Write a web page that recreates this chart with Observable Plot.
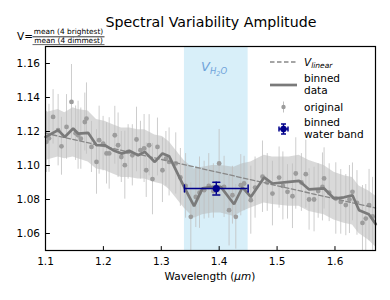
<!DOCTYPE html>
<html>
<head>
<meta charset="utf-8">
<script src="https://cdn.jsdelivr.net/npm/d3@7"></script>
<script src="https://cdn.jsdelivr.net/npm/@observablehq/plot@0.6"></script>
<style>
  html, body { margin: 0; padding: 0; background: #fff; }
  #wrap { position: relative; width: 390px; height: 300px; font-family: "DejaVu Sans", sans-serif; }
  #wrap > svg { position: absolute; left: 0; top: 0; }
</style>
</head>
<body>
<div id="wrap"></div>
<script>
// ---- data ----
const xTicks = [1.1, 1.2, 1.3, 1.4, 1.5, 1.6];
const yTicks = [1.06, 1.08, 1.10, 1.12, 1.14, 1.16];
const xDomain = [1.1, 1.67];
const yDomain = [1.05, 1.17];
const waterRange = [1.34, 1.45];

const binWl = [1.100,1.1218,1.1333,1.1477,1.1563,1.1736,1.1881,1.2024,1.2168,1.2313,1.2456,1.2599,1.2715,1.2888,1.3020,1.3135,1.3394,1.3567,1.3711,1.3884,1.4028,1.4257,1.4402,1.4546,1.4776,1.4920,1.5207,1.5380,1.5553,1.5812,1.5984,1.6157,1.6302,1.6416,1.6584,1.6705];
const binV  = [1.1168,1.1208,1.1168,1.1218,1.1188,1.1192,1.1119,1.1119,1.1090,1.1070,1.1086,1.1060,1.1080,1.1021,1.1071,1.1055,1.0874,1.0761,1.0865,1.0874,1.0874,1.0772,1.0872,1.0815,1.0930,1.0894,1.0904,1.0910,1.0859,1.0865,1.0806,1.0813,1.0825,1.0737,1.0713,1.0655];
const bandLo = [1.103,1.105,1.104,1.105,1.104,1.102,1.098,1.097,1.095,1.093,1.093,1.092,1.092,1.090,1.089,1.086,1.075,1.069,1.071,1.072,1.072,1.070,1.073,1.075,1.078,1.077,1.076,1.076,1.073,1.071,1.068,1.066,1.065,1.060,1.056,1.052];
const bandHi = [1.131,1.133,1.131,1.134,1.133,1.132,1.127,1.126,1.124,1.122,1.122,1.121,1.121,1.118,1.117,1.114,1.103,1.098,1.099,1.100,1.100,1.099,1.101,1.102,1.106,1.105,1.105,1.106,1.103,1.100,1.096,1.094,1.093,1.088,1.085,1.082];

const origWl = [1.1017,1.1060,1.1131,1.1218,1.1276,1.1363,1.1449,1.1520,1.1563,1.1610,1.1679,1.1708,1.1794,1.1881,1.1926,1.1995,1.2054,1.2100,1.2197,1.2254,1.2310,1.2370,1.2427,1.2500,1.2572,1.2640,1.2703,1.2740,1.2790,1.2848,1.2934,1.3020,1.3080,1.3135,1.3250,1.3330,1.3420,1.3510,1.3596,1.3660,1.3740,1.3820,1.3900,1.3999,1.4085,1.4171,1.4229,1.4287,1.4373,1.4430,1.4546,1.4620,1.4748,1.4830,1.4920,1.5035,1.5100,1.5180,1.5266,1.5323,1.5420,1.5496,1.5553,1.5639,1.5710,1.5784,1.5812,1.5900,1.6014,1.6100,1.6187,1.6250,1.6302,1.6380,1.6475,1.6532,1.6589,1.6650];
const origV  = [1.1139,1.1160,1.1286,1.1208,1.1113,1.1227,1.1374,1.1190,1.1178,1.1158,1.1256,1.1276,1.1109,1.1021,1.1149,1.1129,1.1071,1.1071,1.1178,1.1119,1.1050,1.1002,1.1080,1.1060,1.1153,1.1090,1.1100,1.0972,1.1119,1.0920,1.1109,1.0972,1.1040,1.1021,1.1012,1.0930,1.0880,1.0698,1.0815,1.0840,1.0855,1.0880,1.0850,1.1012,1.0874,1.0737,1.0825,1.0698,1.0884,1.0894,1.0796,1.0870,1.0934,1.0900,1.0835,1.0929,1.0880,1.0845,1.0819,1.0953,1.0900,1.0949,1.0800,1.0800,1.0850,1.0874,1.0924,1.0840,1.0806,1.0786,1.0767,1.0800,1.0845,1.0780,1.0662,1.0688,1.0767,1.0700];
const origErr = [0.018,0.020,0.016,0.021,0.017,0.019,0.022,0.016,0.020,0.018,0.017,0.021,0.015,0.019,0.020,0.016,0.018,0.021,0.017,0.019,0.015,0.020,0.016,0.018,0.019,0.017,0.020,0.016,0.018,0.021,0.017,0.019,0.016,0.020,0.018,0.017,0.019,0.020,0.018,0.021,0.017,0.019,0.016,0.020,0.018,0.021,0.017,0.019,0.018,0.016,0.020,0.018,0.021,0.017,0.019,0.018,0.020,0.016,0.019,0.021,0.017,0.020,0.018,0.019,0.016,0.020,0.018,0.017,0.021,0.019,0.018,0.020,0.017,0.019,0.022,0.020,0.021,0.023];

const linWl = [1.1, 1.67];
const linV  = [1.1190, 1.0750];

const waterWl = [1.395];
const waterV = [1.0864];
const waterYErr = [0.0038];
const waterXLo = [1.34];
const waterXHi = [1.45];

// ---- tables ----
const binned = binWl.map((x, i) => ({x, y: binV[i], lo: bandLo[i], hi: bandHi[i]}));
const orig = origWl.map((x, i) => ({x, y: origV[i], e: origErr[i]}));
const lin = linWl.map((x, i) => ({x, y: linV[i]}));
const water = waterWl.map((x, i) => ({x, y: waterV[i], ey: waterYErr[i], xlo: waterXLo[i], xhi: waterXHi[i]}));

const lineShape = {draw(ctx, l) { ctx.moveTo(0, 0); ctx.lineTo(0, -l); }};

const plot = Plot.plot({
  width: 390, height: 300,
  marginTop: 46, marginRight: 15, marginBottom: 50, marginLeft: 45,
  style: {fontFamily: "DejaVu Sans", fontSize: "10.5px", background: "transparent", color: "black"},
  x: {domain: xDomain},
  y: {domain: yDomain},
  marks: [
    Plot.rect([waterRange], {x1: d => d[0], x2: d => d[1], fill: "#87ceeb", fillOpacity: 0.32}),
    Plot.areaY(binned, {x: "x", y1: "lo", y2: "hi", fill: "#b0b0b0", fillOpacity: 0.48, clip: true}),
    Plot.ruleX(orig, {x: "x", y1: d => d.y - d.e, y2: d => d.y + d.e, stroke: "#c0c0c0", strokeOpacity: 0.8, strokeWidth: 1, clip: true}),
    Plot.dot(orig, {x: "x", y: "y", r: 2.4, fill: "#9c9c9c", stroke: "none", clip: true}),
    Plot.line(lin, {x: "x", y: "y", stroke: "#888", strokeWidth: 1.3, strokeDasharray: "4.5,2.5"}),
    Plot.line(binned, {x: "x", y: "y", stroke: "#7a7a7a", strokeWidth: 2.7, strokeLinejoin: "miter"}),
    // water band point with error bars
    Plot.ruleY(water, {y: "y", x1: "xlo", x2: "xhi", stroke: "#00008b", strokeWidth: 1.5}),
    Plot.ruleX(water, {x: "x", y1: d => d.y - d.ey, y2: d => d.y + d.ey, stroke: "#00008b", strokeWidth: 1.5}),
    Plot.vector(water, {x: "xlo", y: "y", length: 7, rotate: 0, anchor: "middle", shape: lineShape, stroke: "#00008b", strokeWidth: 1.5}),
    Plot.vector(water, {x: "xhi", y: "y", length: 7, rotate: 0, anchor: "middle", shape: lineShape, stroke: "#00008b", strokeWidth: 1.5}),
    Plot.vector(water, {x: "x", y: d => d.y - d.ey, length: 7, rotate: 90, anchor: "middle", shape: lineShape, stroke: "#00008b", strokeWidth: 1.5}),
    Plot.vector(water, {x: "x", y: d => d.y + d.ey, length: 7, rotate: 90, anchor: "middle", shape: lineShape, stroke: "#00008b", strokeWidth: 1.5}),
    Plot.dot(water, {x: "x", y: "y", r: 3.6, fill: "#00008b", stroke: "none"}),
    // axes
    Plot.axisX(xTicks, {tickSize: 0, tickPadding: 7, tickFormat: d => d.toFixed(1), label: null}),
    Plot.axisY(yTicks, {tickSize: 0, tickPadding: 5.5, tickFormat: d => d.toFixed(2), label: null}),
    Plot.vector(xTicks, {x: d => d, y: yDomain[0], length: 4, rotate: 0, anchor: "start", shape: lineShape, stroke: "black", strokeWidth: 1}),
    Plot.vector(yTicks, {x: xDomain[0], y: d => d, length: 4, rotate: 90, anchor: "start", shape: lineShape, stroke: "black", strokeWidth: 1}),
    Plot.frame({stroke: "black", strokeWidth: 1.2})
  ]
});
const wrap = document.getElementById("wrap");
wrap.appendChild(plot);

// ---- overlay text: title, y label, x label, band label, legend ----
const ns = "http://www.w3.org/2000/svg";
const ov = document.createElementNS(ns, "svg");
ov.setAttribute("width", 390); ov.setAttribute("height", 300);
ov.style.fontFamily = "DejaVu Sans, sans-serif";
ov.innerHTML = `
  <text x="211" y="27" font-size="14.2" text-anchor="middle" fill="#000">Spectral Variability Amplitude</text>
  <text x="17" y="39.5" font-size="10.5" fill="#000">V=</text>
  <text x="68.5" y="34" font-size="7.4" text-anchor="middle" fill="#000">mean (4 brightest)</text>
  <line x1="32.5" x2="104.5" y1="36.8" y2="36.8" stroke="#000" stroke-width="0.8"/>
  <text x="68.5" y="43.3" font-size="7.4" text-anchor="middle" fill="#000">mean (4 dimmest)</text>
  <line x1="32.5" x2="104.5" y1="44.6" y2="44.6" stroke="#000" stroke-width="0.6"/>
  <text x="210" y="280" font-size="10.5" text-anchor="middle" fill="#000">Wavelength (<tspan font-style="italic">μm</tspan>)</text>
  <text x="201" y="71" font-size="13" font-style="italic" fill="#6fa3d9">V<tspan font-size="8.5" dy="3">H</tspan><tspan font-size="6.5" dy="2">2</tspan><tspan font-size="8.5" dy="-2">O</tspan></text>

  <line x1="270" x2="297" y1="62" y2="62" stroke="#888" stroke-width="1.3" stroke-dasharray="4.5,2.5"/>
  <text x="304" y="65.5" font-size="10.5" font-style="italic" fill="#000">V<tspan font-size="7.5" dy="2.5">linear</tspan></text>

  <line x1="270" x2="297" y1="85" y2="85" stroke="#7a7a7a" stroke-width="2.7"/>
  <text x="304" y="81.5" font-size="10.5" fill="#000">binned</text>
  <text x="304" y="94" font-size="10.5" fill="#000">data</text>

  <line x1="283.5" x2="283.5" y1="101.5" y2="112.5" stroke="#c0c0c0" stroke-width="1"/>
  <circle cx="283.5" cy="107" r="2.2" fill="#9c9c9c"/>
  <text x="304" y="110.5" font-size="10.5" fill="#000">original</text>

  <line x1="279" x2="288" y1="129" y2="129" stroke="#00008b" stroke-width="1.5"/>
  <line x1="283.5" x2="283.5" y1="124" y2="134" stroke="#00008b" stroke-width="1.5"/>
  <line x1="279" x2="279" y1="126.5" y2="131.5" stroke="#00008b" stroke-width="1.5"/>
  <line x1="288" x2="288" y1="126.5" y2="131.5" stroke="#00008b" stroke-width="1.5"/>
  <line x1="281" x2="286" y1="124" y2="124" stroke="#00008b" stroke-width="1.5"/>
  <line x1="281" x2="286" y1="134" y2="134" stroke="#00008b" stroke-width="1.5"/>
  <circle cx="283.5" cy="129" r="3.2" fill="#00008b"/>
  <text x="304" y="126" font-size="10.5" fill="#000">binned</text>
  <text x="304" y="138" font-size="10.5" fill="#000">water band</text>
`;
wrap.appendChild(ov);
</script>
</body>
</html>
